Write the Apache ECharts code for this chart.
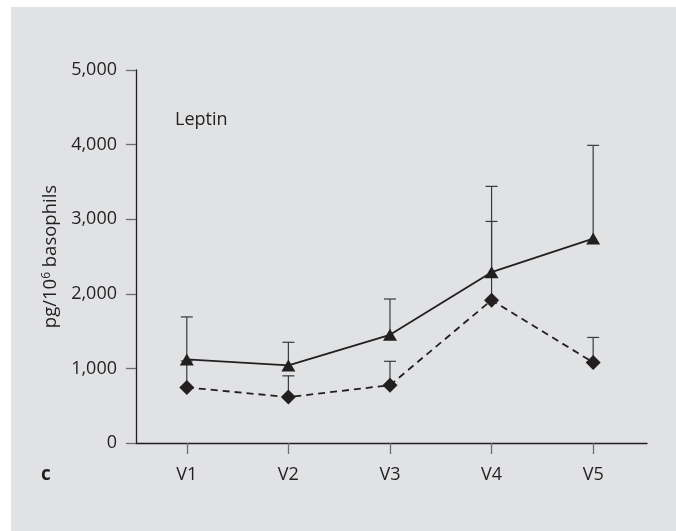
<!DOCTYPE html>
<html>
<head>
<meta charset="utf-8">
<script src="https://cdn.jsdelivr.net/npm/echarts@6/dist/echarts.min.js"></script>
<style>
  html, body { margin: 0; padding: 0; background: #ffffff; }
  #chart { width: 676px; height: 531px; }
</style>
</head>
<body>
<div id="chart"></div>
<script>
// Visits on the x axis
const visits = ['V1', 'V2', 'V3', 'V4', 'V5'];
// Y-axis ticks
const yTicks = [0, 1000, 2000, 3000, 4000, 5000];
// Solid line, triangles: mean and upper error limit
const triMean = [1120, 1040, 1450, 2290, 2740];
const triUpper = [1690, 1350, 1930, 3440, 3990];
// Dashed line, diamonds: mean and upper error limit
const diaMean = [745, 615, 775, 1915, 1080];
const diaUpper = [1100, 900, 1095, 2970, 1415];

const FONT = '"Open Sans", "Noto Sans", sans-serif';
const INK = '#231f20';

const xPos = visits.map((_, i) => i + 1);
const pairs = (arr) => arr.map((v, i) => [xPos[i], v]);

function errorBars(means, uppers) {
  return {
    type: 'custom',
    z: 2,
    silent: true,
    data: means.map((m, i) => [xPos[i], m, uppers[i]]),
    renderItem: function (params, api) {
      const base = api.coord([api.value(0), api.value(1)]);
      const top = api.coord([api.value(0), api.value(2)]);
      const half = 6;
      const style = { stroke: '#3a3a3a', lineWidth: 1.2, fill: null };
      return {
        type: 'group',
        children: [
          { type: 'line', shape: { x1: base[0], y1: base[1], x2: top[0], y2: top[1] }, style: style },
          { type: 'line', shape: { x1: top[0] - half, y1: top[1], x2: top[0] + half, y2: top[1] }, style: style }
        ]
      };
    }
  };
}

const chart = echarts.init(document.getElementById('chart'), null, { renderer: 'canvas' });

chart.setOption({
  animation: false,
  backgroundColor: '#ffffff',
  graphic: [
    { type: 'rect', z: -10, shape: { x: 11, y: 7, width: 665, height: 524 }, style: { fill: '#e1e2e4' } },
    { type: 'text', left: 175, top: 111, style: { text: 'Leptin', font: '18px ' + FONT, fill: INK } },
    { type: 'text', left: 41, top: 465, style: { text: 'c', font: 'bold 19px ' + FONT, fill: INK } }
  ],
  grid: { left: 136, right: 29, top: 70, bottom: 88, containLabel: false },
  xAxis: {
    type: 'value',
    min: 0.5,
    max: 5.53,
    splitLine: { show: false },
    axisLine: { lineStyle: { color: INK, width: 1.3 } },
    axisTick: { show: true, length: 11, inside: false, customValues: xPos, lineStyle: { color: '#6d6d6d', width: 1.3 } },
    axisLabel: {
      customValues: xPos,
      margin: 23,
      color: INK,
      fontFamily: FONT,
      fontSize: 18,
      formatter: (v) => visits[Math.round(v) - 1] || ''
    }
  },
  yAxis: {
    type: 'value',
    min: yTicks[0],
    max: yTicks[yTicks.length - 1],
    interval: 1000,
    splitLine: { show: false },
    axisLine: { show: true, lineStyle: { color: INK, width: 1.3 } },
    axisTick: { show: true, length: 10, lineStyle: { color: '#6d6d6d', width: 1.3 } },
    axisLabel: {
      margin: 19,
      color: INK,
      fontFamily: FONT,
      fontSize: 18,
      formatter: (v) => v.toLocaleString('en-US')
    },
    name: '{a|pg/10}{s|6}{a| basophils}',
    nameLocation: 'middle',
    nameRotate: 90,
    nameGap: 73,
    nameTextStyle: {
      rich: {
        a: { fontFamily: FONT, fontSize: 18.5, color: INK },
        s: { fontFamily: FONT, fontSize: 12, color: INK, verticalAlign: 'top', padding: [0, 0, 8, 0] }
      }
    }
  },
  series: [
    errorBars(triMean, triUpper),
    errorBars(diaMean, diaUpper),
    {
      type: 'line',
      z: 3,
      data: pairs(triMean),
      symbol: 'triangle',
      symbolSize: [14, 12],
      itemStyle: { color: INK },
      lineStyle: { color: INK, width: 1.8, type: 'solid' }
    },
    {
      type: 'line',
      z: 3,
      data: pairs(diaMean),
      symbol: 'diamond',
      symbolSize: [15, 15],
      itemStyle: { color: INK },
      lineStyle: { color: INK, width: 1.8, type: [7, 5] }
    }
  ]
});
</script>
</body>
</html>
